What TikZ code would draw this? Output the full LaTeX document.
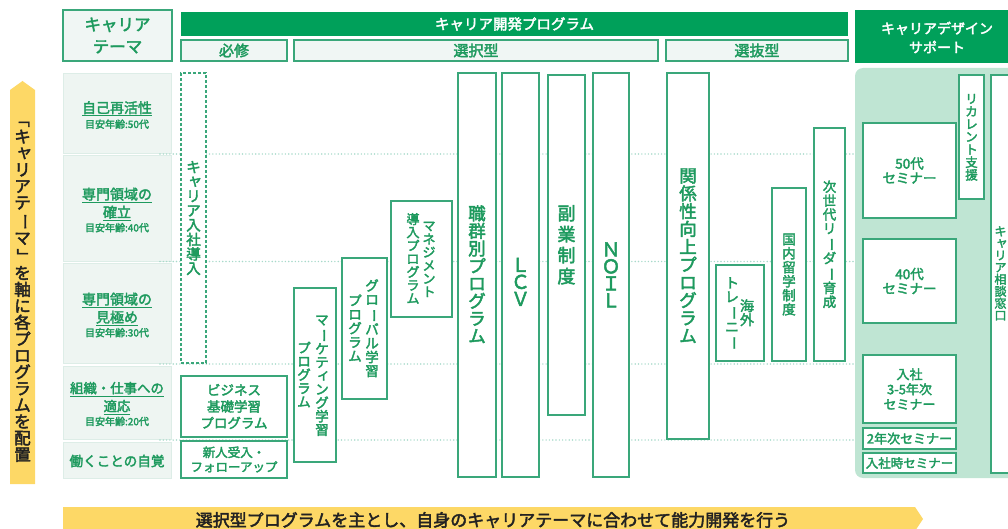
\documentclass[tikz,border=0pt]{standalone}
\usepackage{fontspec}
\usepackage{graphicx}
\setmainfont{Noto Sans CJK JP}[FakeBold=2.5]
\definecolor{gDark}{HTML}{00A05A}
\definecolor{gLine}{HTML}{3AA77A}
\definecolor{gText}{HTML}{1E9A5E}
\definecolor{rowFill}{HTML}{EEF5F2}
\definecolor{rowLine}{HTML}{DDEDE7}
\definecolor{subFill}{HTML}{F0F6F4}
\definecolor{panelc}{HTML}{BFE5D3}
\definecolor{dotc}{HTML}{A8DACA}
\definecolor{yel}{HTML}{FDD866}
\definecolor{ink}{HTML}{222222}
\newcommand\fs[2]{\fontsize{#1}{#2}\selectfont}
\makeatletter
\newdimen\vt@gap
\newcommand\vt[2][0pt]{\vt@gap=#1\relax\vbox{\offinterlineskip\vt@a#2\@nil\unkern}}
\def\vt@a#1{\ifx\@nil#1\else\vt@cell{#1}\expandafter\vt@a\fi}
\def\vt@cell#1{\hbox to 1em{\hss\vt@glyph{#1}\hss\vrule height .86em depth .14em width 0pt}\kern\vt@gap}
\def\vt@glyph#1{%
 \ifx#1ー\rotatebox[origin=c]{-90}{ー}%
 \else\ifx#1「\rotatebox[origin=c]{-90}{「}%
 \else\ifx#1」\rotatebox[origin=c]{-90}{」}%
 \else\ifx#1ャ\kern.22em\raisebox{.1em}{ャ}%
 \else\ifx#1ィ\kern.22em\raisebox{.1em}{ィ}%
 \else\ifx#1ッ\kern.22em\raisebox{.1em}{ッ}%
 \else #1\fi\fi\fi\fi\fi\fi}
\makeatother
\newcommand\bx[7][]{\node[#1, minimum width={(#4-#2)*1pt}, minimum height={(#5-#3)*1pt}] (#6) at ({(#2+#4)/2},{(#3+#5)/2}) {#7};}
\begin{document}
\begin{tikzpicture}[x=1pt,y=-1pt,
 box/.style={draw=gLine,line width=1.3pt,fill=white,inner sep=0pt,outer sep=0pt,text=gText},
 row/.style={draw=rowLine,line width=0.8pt,fill=rowFill,inner sep=0pt,outer sep=0pt},
 sub/.style={draw=gLine,line width=1.2pt,fill=subFill,inner sep=0pt,outer sep=0pt,text=gText,font=\fs{15}{17}},
 bar/.style={fill=gDark,inner sep=0pt,outer sep=0pt,text=white},
 lbl/.style={text=gText,inner sep=0pt,align=center},
 vlbl/.style={text=gText,inner sep=0pt},
 dotl/.style={draw=dotc,line width=1.6pt,dash pattern=on 0pt off 3.3pt,line cap=round}]
\useasboundingbox (0,0) rectangle (1008,529);

% header
\bx[sub,align=center,font=\fs{16.5}{22}]{63}{10}{172}{61}{themeHdr}{キャリア\\テーマ}
\bx[bar,font=\fs{14.5}{17}]{181}{12}{848}{36}{devBar}{キャリア開発プログラム}
\bx[sub]{181}{40}{287}{61}{hissu}{必修}
\bx[sub]{294}{40}{658}{61}{sentaku}{選択型}
\bx[sub]{666}{40}{848}{61}{senbatsu}{選抜型}
\bx[bar,align=center,font=\fs{14}{19}]{855}{10}{1020}{63}{supHdr}{}
\node[text=white,align=center,font=\fs{14}{19},inner sep=0pt] (supHdrT) at (937,37.5) {キャリアデザイン\\サポート};

% theme rows
\bx[row]{63}{73}{171}{153}{r1}{}
\bx[row]{63}{155}{171}{261}{r2}{}
\bx[row]{63}{263}{171}{363}{r3}{}
\bx[row]{63}{366}{171}{439}{r4}{}
\bx[row]{63}{442}{171}{478}{r5}{}
\node[lbl,font=\fs{14}{18}] (t1) at (117,115) {\underline{自己再活性}\\[-3pt]{\fs{10}{12}目安年齢:50代}};
\node[lbl,font=\fs{14}{18}] (t2) at (117,210) {\underline{専門領域の}\\\underline{確立}\\[-4pt]{\fs{10}{12}目安年齢:40代}};
\node[lbl,font=\fs{14}{18}] (t3) at (117,315) {\underline{専門領域の}\\\underline{見極め}\\[-4pt]{\fs{10}{12}目安年齢:30代}};
\node[lbl,font=\fs{13.4}{18}] (t4) at (117,404) {\underline{組織・仕事への}\\\underline{適応}\\[-4pt]{\fs{10}{12}目安年齢:20代}};
\node[lbl,font=\fs{13.6}{16}] (t5) at (117,461) {働くことの自覚};

% arrows
\fill[yel] (10,90) -- (22.5,81) -- (35,90) -- (35,484) -- (10,484) -- cycle;
\node[text=ink,inner sep=0pt,font=\fs{16.5}{17}] (leftT) at (22.5,287) {\vt{「キャリアテーマ」を軸に各プログラムを配置}};
\fill[yel] (63,507) -- (915,507) -- (923,519) -- (915,531) -- (63,531) -- cycle;
\node[text=ink,inner sep=0pt,font=\fs{17}{18}] (botT) at (493,520) {選択型プログラムを主とし、自身のキャリアテーマに合わせて能力開発を行う};

% right panel
\bx[fill=panelc,rounded corners=8pt,inner sep=0pt,outer sep=0pt]{855}{68}{1030}{478}{panel}{}

% dotted separators
\foreach \yy/\nm in {154/a,261.5/b,364/c,440/d}{
 \coordinate (dl\nm) at (160,\yy);
 \coordinate (dr\nm) at (855,\yy);
 \draw[dotl] (dl\nm) -- (dr\nm);
}

% required
\bx[box,dash pattern=on 3pt off 2pt,line width=1.2pt]{181}{73}{206}{363}{intro}{\fs{14.5}{15}\vt{キャリア入社導入}}
\bx[box,align=center,font=\fs{13.5}{16.5}]{181}{376}{287}{437}{biz}{ビジネス\\基礎学習\\プログラム}
\bx[box,align=center,font=\fs{12.5}{14.5}]{181}{441}{287}{478}{newc}{新人受入・\\フォローアップ}

% selective
\bx[box]{294}{288}{336}{462}{mkt}{}
\node[vlbl,font=\fs{13.5}{14}] (mktA) at (322,375) {\vt{マーケティング学習}};
\node[vlbl,font=\fs{13.5}{14}] (mktB) at (304,375) {\vt{プログラム}};
\bx[box]{342}{258}{387}{399}{glb}{}
\node[vlbl,font=\fs{13.5}{14}] (glbA) at (372,328.5) {\vt[0.4pt]{グローバル学習}};
\node[vlbl,font=\fs{13.5}{14}] (glbB) at (355,328.5) {\vt[0.4pt]{プログラム}};
\bx[box]{391}{201}{452}{317}{mgmt}{}
\node[vlbl,font=\fs{13}{14}] (mgA) at (429,259) {\vt[0.2pt]{マネジメント}};
\node[vlbl,font=\fs{13}{14}] (mgB) at (413,259) {\vt[0.2pt]{導入プログラム}};
\bx[box]{458}{73}{496}{477}{shoku}{\fs{17.5}{18}\vt{職群別プログラム}}
\bx[box]{502}{73}{539}{477}{lcv}{}
\node[vlbl,font=\fs{19}{20}] (lcvT) at (520.5,282) {\vt[-2pt]{ＬＣＶ}};
\bx[box]{548}{75}{585}{415}{fuku}{\fs{18}{18}\vt[3pt]{副業制度}}
\bx[box]{593}{73}{629}{477}{noil}{}
\node[vlbl,font=\fs{19}{20}] (noilT) at (611,275) {\vt[-2pt]{ＮＯＩＬ}};

% selection type
\bx[box]{667}{73}{709}{439}{kankei}{\fs{17.5}{18}\vt[0.3pt]{関係性向上プログラム}}
\bx[box]{716}{265}{764}{361}{kaigai}{}
\node[vlbl,font=\fs{14}{14}] (kgA) at (747,313) {\vt{海外}};
\node[vlbl,font=\fs{14}{14}] (kgB) at (732,313) {\vt{トレーニー}};
\bx[box]{772}{188}{806}{361}{kokunai}{\fs{13.5}{14}\vt[0.5pt]{国内留学制度}}
\bx[box]{814}{128}{845}{361}{jisedai}{\fs{13.5}{14}\vt[0.4pt]{次世代リーダー育成}}

% career design support
\bx[box,align=center,font=\fs{13.5}{14.5}]{863}{123}{956}{218}{s50}{50代\\セミナー}
\bx[box,align=center,font=\fs{13.5}{14.5}]{863}{239}{956}{323}{s40}{40代\\セミナー}
\bx[box,align=center,font=\fs{13}{15}]{863}{355}{956}{423}{s35}{入社\\3-5年次\\セミナー}
\bx[box,font=\fs{13}{14}]{863}{428}{956}{449}{s2}{2年次セミナー}
\bx[box,font=\fs{12.5}{14}]{863}{453}{956}{473}{s0}{入社時セミナー}
\bx[box]{959}{75}{984}{199}{recur}{\fs{12.5}{13}\vt[0.2pt]{リカレント支援}}
\bx[box]{991}{75}{1030}{473}{soudan}{}
\node[vlbl,font=\fs{12}{12}] (soudanT) at (1000.5,273.5) {\vt{キャリア相談窓口}};
\end{tikzpicture}
\end{document}
